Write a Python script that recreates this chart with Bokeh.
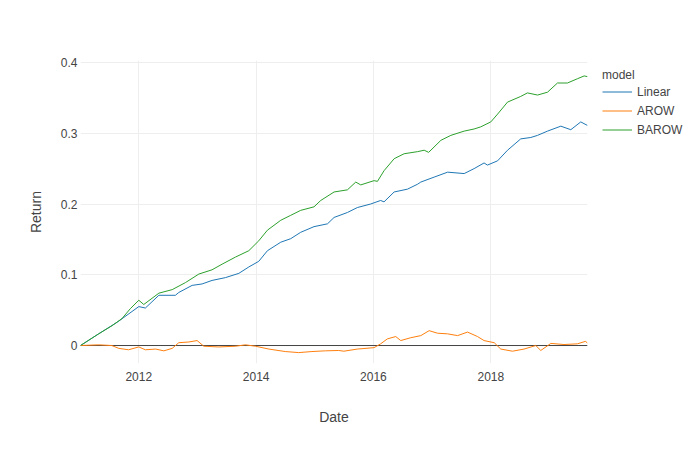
import pandas as pd
from bokeh.plotting import figure
from bokeh.models import (ColumnDataSource, Range1d, FixedTicker, DatetimeTickFormatter,
                          Span, Legend, LegendItem)
from bokeh.embed import file_html
from bokeh.resources import INLINE

# ---------------- data ----------------
linear_dates = ["2011-01-03", "2011-04-26", "2011-08-20", "2011-11-01", "2012-01-01", "2012-02-11",
                "2012-05-05", "2012-08-16", "2012-09-06", "2012-11-28", "2013-01-29", "2013-04-01",
                "2013-06-24", "2013-09-15", "2013-11-16", "2014-01-17", "2014-03-12", "2014-06-03",
                "2014-08-04", "2014-10-05", "2014-12-27", "2015-03-21", "2015-05-01", "2015-07-23",
                "2015-09-23", "2015-12-15", "2016-02-15", "2016-03-07", "2016-05-09", "2016-07-31",
                "2016-10-02", "2016-10-22", "2017-01-13", "2017-04-07", "2017-07-19", "2017-09-19",
                "2017-11-20", "2017-12-11", "2018-02-12", "2018-04-15", "2018-07-06", "2018-09-07",
                "2018-10-19", "2018-12-20", "2019-03-13", "2019-05-14", "2019-07-15", "2019-08-26"]
linear_vals = [0.000, 0.0165, 0.033, 0.045, 0.055, 0.053,
               0.071, 0.071, 0.075, 0.085, 0.087, 0.092,
               0.096, 0.102, 0.111, 0.119, 0.134, 0.146,
               0.151, 0.160, 0.168, 0.172, 0.181, 0.188,
               0.195, 0.200, 0.205, 0.203, 0.217, 0.221,
               0.228, 0.231, 0.238, 0.245, 0.243, 0.250,
               0.258, 0.255, 0.261, 0.276, 0.292, 0.294,
               0.297, 0.303, 0.310, 0.305, 0.316, 0.311]

arow_dates = ["2011-01-03", "2011-04-26", "2011-07-17", "2011-08-29", "2011-10-29", "2012-01-01",
              "2012-02-11", "2012-04-15", "2012-06-05", "2012-07-27", "2012-09-06", "2012-11-07",
              "2012-12-29", "2013-02-09", "2013-05-13", "2013-08-25", "2013-10-26", "2013-12-28",
              "2014-03-21", "2014-07-01", "2014-09-23", "2014-12-14", "2015-03-08", "2015-05-30",
              "2015-07-01", "2015-09-23", "2016-01-05", "2016-02-15", "2016-03-28", "2016-05-19",
              "2016-06-19", "2016-08-20", "2016-10-22", "2016-12-13", "2017-02-03", "2017-04-07",
              "2017-06-08", "2017-08-09", "2017-10-10", "2017-11-20", "2018-01-22", "2018-03-04",
              "2018-05-16", "2018-07-27", "2018-10-08", "2018-11-08", "2019-01-10", "2019-04-02",
              "2019-06-24", "2019-08-15", "2019-08-26"]
arow_vals = [0.000, 0.001, 0.000, -0.004, -0.006, -0.002,
             -0.006, -0.005, -0.0075, -0.004, 0.004, 0.005,
             0.007, -0.001, -0.002, -0.001, 0.001, -0.001,
             -0.005, -0.0085, -0.010, -0.0085, -0.0075, -0.007,
             -0.008, -0.005, -0.003, 0.0024, 0.0094, 0.0127,
             0.007, 0.011, 0.014, 0.021, 0.0174, 0.0165,
             0.014, 0.019, 0.0127, 0.007, 0.004, -0.005,
             -0.008, -0.005, 0.000, -0.007, 0.003, 0.0014,
             0.0024, 0.006, 0.003]

barow_dates = ["2011-01-03", "2011-04-26", "2011-07-18", "2011-09-18", "2011-11-09", "2012-01-01",
               "2012-02-01", "2012-05-05", "2012-07-27", "2012-10-18", "2013-01-09", "2013-04-01",
               "2013-06-03", "2013-08-25", "2013-11-16", "2014-01-17", "2014-03-12", "2014-06-03",
               "2014-08-04", "2014-10-05", "2014-12-27", "2015-02-07", "2015-05-01", "2015-07-23",
               "2015-09-13", "2015-10-14", "2016-01-05", "2016-01-26", "2016-03-07", "2016-05-09",
               "2016-07-10", "2016-10-02", "2016-11-12", "2016-12-10", "2017-02-24", "2017-04-27",
               "2017-07-19", "2017-09-19", "2017-10-30", "2018-01-01", "2018-02-12", "2018-04-15",
               "2018-07-06", "2018-08-17", "2018-10-19", "2018-12-20", "2019-02-20", "2019-04-23",
               "2019-06-24", "2019-08-05", "2019-08-26"]
barow_vals = [0.000, 0.0165, 0.028, 0.038, 0.052, 0.064,
              0.058, 0.074, 0.079, 0.089, 0.101, 0.107,
              0.115, 0.125, 0.134, 0.148, 0.163, 0.177,
              0.184, 0.191, 0.196, 0.205, 0.217, 0.220,
              0.231, 0.227, 0.233, 0.232, 0.247, 0.264,
              0.271, 0.274, 0.276, 0.273, 0.290, 0.297,
              0.303, 0.306, 0.309, 0.316, 0.327, 0.344,
              0.352, 0.357, 0.354, 0.358, 0.371, 0.371,
              0.377, 0.381, 0.380]

series_names = ["Linear", "AROW", "BAROW"]
series_colors = ["#1f77b4", "#ff7f0e", "#2ca02c"]
x_tick_years = ["2012-01-01", "2014-01-01", "2016-01-01", "2018-01-01"]
y_ticks = [0.0, 0.1, 0.2, 0.3, 0.4]
y_tick_labels = ["0", "0.1", "0.2", "0.3", "0.4"]

FONT = "Liberation Sans"
TXT = "#444444"

p = figure(frame_width=507, frame_height=303, x_axis_type="datetime", output_backend="svg",
           toolbar_location=None, min_border_left=80, min_border_right=0,
           min_border_top=60, min_border_bottom=85,
           x_range=Range1d(pd.Timestamp("2011-01-03"), pd.Timestamp("2019-08-26")),
           y_range=Range1d(-0.0254, 0.4028))
p.outline_line_color = None
p.background_fill_color = "white"

for g in (p.xgrid, p.ygrid):
    g.grid_line_color = "#eeeeee"
    g.grid_line_width = 1

p.xaxis.ticker = FixedTicker(ticks=[pd.Timestamp(d).value / 1e6 for d in x_tick_years])
p.xaxis.formatter = DatetimeTickFormatter(years="%Y", months="%Y", days="%Y", hours="%Y")
p.yaxis.ticker = FixedTicker(ticks=y_ticks)
p.yaxis.major_label_overrides = {t: l for t, l in zip(y_ticks, y_tick_labels)}

for ax in (p.xaxis[0], p.yaxis[0]):
    ax.axis_line_color = None
    ax.major_tick_line_color = None
    ax.minor_tick_line_color = None
    ax.major_tick_out = 0
    ax.major_tick_in = 0
    ax.major_label_text_font = FONT
    ax.major_label_text_font_size = "12px"
    ax.major_label_text_color = TXT
    ax.axis_label_text_font = FONT
    ax.axis_label_text_font_size = "14px"
    ax.axis_label_text_color = TXT
    ax.axis_label_text_font_style = "normal"

p.xaxis.axis_label = "Date"
p.yaxis.axis_label = "Return"
p.xaxis.major_label_standoff = 8
p.xaxis.axis_label_standoff = 25
p.yaxis.major_label_standoff = 3
p.yaxis.axis_label_standoff = 14

zero = Span(location=0, dimension="width", line_color=TXT, line_width=1, level="underlay")
p.add_layout(zero)

all_dates = [linear_dates, arow_dates, barow_dates]
all_vals = [linear_vals, arow_vals, barow_vals]
items = []
for name, col, ds, vs in zip(series_names, series_colors, all_dates, all_vals):
    src = ColumnDataSource(dict(x=pd.to_datetime(ds), y=vs))
    r = p.line("x", "y", source=src, line_color=col, line_width=1)
    items.append(LegendItem(label=name, renderers=[r]))

legend = Legend(items=items, location=(15, 224), title="model",
                title_text_font=FONT, title_text_font_size="12px", title_text_color=TXT,
                title_text_font_style="normal", title_standoff=0,
                label_text_font=FONT, label_text_font_size="12px", label_text_color=TXT,
                glyph_width=30, glyph_height=19, label_height=19, label_standoff=5,
                spacing=0, padding=5, margin=0, border_line_color=None,
                background_fill_alpha=0)
p.add_layout(legend, "right")

open("out.html", "w").write(file_html(p, INLINE))
